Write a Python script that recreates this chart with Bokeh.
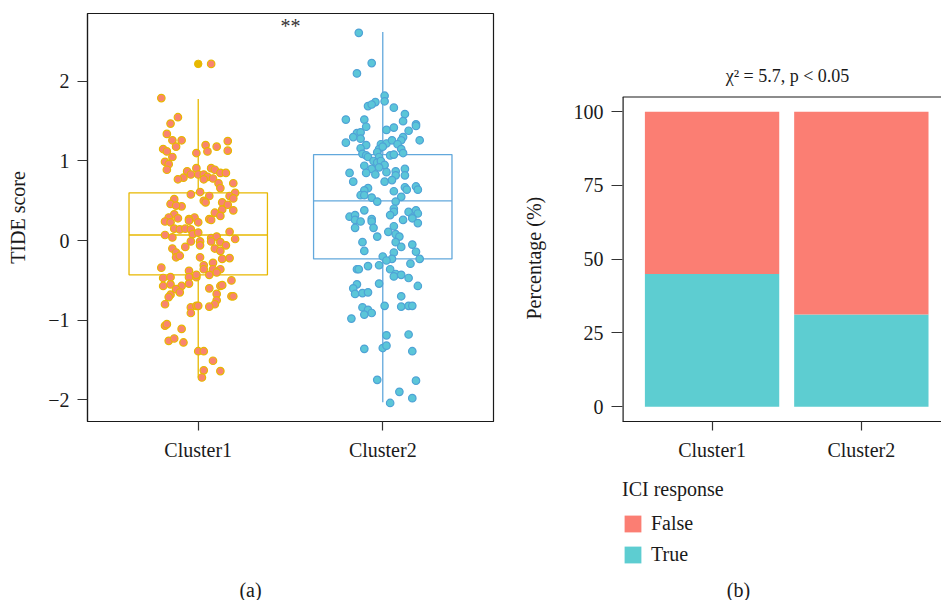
from bokeh.plotting import figure
from bokeh.models import (FixedTicker, Legend, LegendItem, Label, Range1d, ColumnDataSource,
                          Span, Title)
from bokeh.layouts import row, column
from bokeh.transform import dodge
from bokeh.embed import file_html
from bokeh.resources import INLINE

# ---------------- data ----------------
clusters = ["Cluster1", "Cluster2"]
cluster_pos = [1, 2]

# TIDE scores (jittered points)
c1_tide = [2.22, 1.79, 1.55, 1.47, 1.34, 1.26, 1.26, 1.25, 1.18, 1.20, 1.18, 1.15, 1.12, 1.12, 1.13,
           1.10, 1.05, 0.99, 0.96, 0.89, 0.91, 0.87, 0.91, 0.89, 0.85, 0.85, 0.83, 0.83, 0.83, 0.80,
           0.78, 0.79, 0.77, 0.77, 0.72, 0.72, 0.66, 0.58, 0.61, 0.56, 0.60, 0.56, 0.53, 0.52, 0.46,
           0.50, 0.48, 0.43, 0.44, 0.48, 0.39, 0.45, 0.38, 0.35, 0.31, 0.33, 0.29, 0.29, 0.27, 0.27,
           0.28,
           0.24, 0.23, 0.25, 0.23, 0.26, 0.15, 0.14, 0.15, 0.14, 0.08, 0.07, 0.04, 0.10, -0.01, -0.08,
           -0.01, -0.06, 0.03, 0.05, -0.01, -0.02, -0.06, 0.11, 0.02, -0.10, -0.13, -0.10, -0.15, -0.21,
           -0.19, -0.21, -0.23, -0.22, -0.31, -0.28, -0.36, -0.36, -0.36, -0.38, -0.43, -0.40, -0.34,
           -0.46, -0.46, -0.43, -0.47, -0.46, -0.57, -0.55, -0.57, -0.54, -0.61, -0.65, -0.60, -0.57,
           -0.56, -0.50, -0.67, -0.68, -0.71, -0.70, -0.70, -0.75, -0.80, -0.80, -0.84, -0.82, -0.82,
           -0.83, -0.91, -1.07, -1.05, -1.11, -1.26, -1.23, -1.28, -1.39, -1.39, -1.51, -1.63, -1.64,
           -1.72]
c1_jitter = [0.07, -0.20, -0.11, -0.15, -0.17, -0.14, -0.09, 0.16, -0.12, 0.04, 0.10, -0.19, -0.17, 0.05,
             0.16, -0.01, -0.14, -0.18, -0.16, -0.17, -0.01, -0.06, 0.07, 0.09, 0.12, 0.15, -0.04, 0.00,
             0.03, 0.05, 0.08, -0.08, -0.11, 0.03, 0.11, 0.19, 0.12, -0.04, 0.01, 0.06, 0.20, 0.17, 0.19,
             -0.13, -0.15, 0.03, 0.04, -0.09, -0.12, 0.13, 0.13, 0.16, 0.19, 0.09, 0.12, -0.13, -0.16,
             -0.02, -0.05, 0.06, -0.11,
             -0.18, -0.15, -0.05, 0.00, 0.07, -0.13, -0.10, -0.07, -0.04, -0.03, -0.18, -0.14, 0.00,
             -0.04, -0.07, 0.01, 0.01, 0.07, 0.10, 0.07, 0.12, 0.15, 0.17, 0.20, 0.09, 0.12, -0.14, -0.12,
             -0.12, -0.10, 0.01, 0.13, 0.17, 0.03, 0.08, 0.03, 0.08, 0.12, -0.05, 0.06, 0.10, -0.20, -0.05,
             -0.01, -0.01, -0.19, -0.15, -0.19, -0.15, -0.09, -0.05, -0.12, -0.10, 0.06, 0.12, 0.13, 0.18,
             0.10, -0.15, -0.16, 0.18, 0.19, 0.10, 0.09, -0.18, -0.04, -0.01, 0.00, 0.06, -0.04, -0.18,
             -0.17, -0.09, -0.16, -0.13, -0.08, 0.00, 0.03, 0.08, 0.03, 0.12, 0.02]

c2_tide = [2.61, 2.23, 2.10, 1.82, 1.75, 1.74, 1.69, 1.71, 1.67, 1.59, 1.50, 1.52, 1.52, 1.43, 1.46,
           1.44, 1.38, 1.39, 1.42, 1.35, 1.36, 1.30, 1.28, 1.26, 1.30, 1.26, 1.23, 1.20, 1.21, 1.22,
           1.26, 1.21, 1.16, 1.15, 1.18, 1.15, 1.10, 1.09, 1.07, 1.11, 1.05, 1.05, 1.00, 0.98, 1.00,
           0.95, 1.07, 1.08, 0.94, 0.90, 0.85, 0.83, 0.92, 0.86, 0.87, 0.90, 0.82, 0.82, 0.85, 0.74,
           0.74, 0.76, 0.66, 0.63, 0.67, 0.64, 0.68, 0.64, 0.62, 0.55, 0.57, 0.57, 0.54, 0.49, 0.49,
           0.38, 0.40, 0.36, 0.36, 0.38, 0.34, 0.30, 0.32, 0.27, 0.32, 0.29,
           0.26, 0.24, 0.24, 0.26, 0.28, 0.22, 0.16, 0.16, 0.11, 0.18, 0.08, 0.05, 0.05, -0.02, -0.02,
           -0.08, -0.05, -0.13, -0.15, -0.14, -0.20, -0.23, -0.25, -0.23, -0.29, -0.31, -0.32, -0.36,
           -0.36, -0.36, -0.42, -0.43, -0.45, -0.47, -0.54, -0.55, -0.57, -0.60, -0.67, -0.66, -0.65,
           -0.70, -0.82, -0.84, -0.87, -0.91, -0.93, -0.83, -0.82, -0.82, -0.98, -1.19, -1.18, -1.36,
           -1.35, -1.32, -1.39, -1.75, -1.76, -1.90, -1.98, -2.04]
c2_jitter = [-0.13, -0.06, -0.14, 0.01, 0.01, -0.04, -0.08, -0.06, 0.06, 0.12, 0.11, -0.20, -0.10, -0.09,
             0.18, 0.18, 0.14, 0.02, 0.06, -0.14, -0.12, -0.16, -0.12, 0.20, 0.11, 0.10, -0.20, -0.09,
             -0.01, 0.02, 0.05, 0.08, -0.12, -0.02, 0.00, 0.10, 0.11, -0.11, -0.09, -0.03, -0.08, -0.02,
             -0.05, -0.03, -0.01, 0.01, 0.04, 0.06, -0.10, -0.06, -0.09, -0.04, -0.02, 0.02, 0.07, 0.12,
             0.12, 0.07, -0.18, -0.16, 0.01, 0.05, -0.08, -0.10, 0.12, 0.13, 0.18, 0.19, 0.06, 0.10,
             -0.12, -0.10, -0.06, -0.03, 0.07, -0.10, 0.06, 0.06, 0.14, 0.18, 0.19, -0.18, -0.15, -0.06,
             0.04, 0.16,
             -0.15, -0.12, -0.06, 0.11, 0.16, 0.19, -0.15, -0.05, 0.03, 0.06, 0.07, -0.03, 0.09, -0.11,
             0.07, 0.10, 0.16, -0.10, 0.06, 0.18, 0.00, 0.05, 0.02, 0.20, 0.15, -0.02, -0.08, -0.14,
             -0.13, 0.04, 0.07, 0.10, 0.06, 0.14, -0.02, -0.14, 0.19, -0.16, -0.15, -0.11, -0.08, 0.10,
             0.01, -0.11, -0.08, -0.06, -0.10, 0.10, 0.14, 0.16, -0.17, 0.02, 0.14, -0.10, 0.00, 0.02,
             0.16, -0.03, 0.18, 0.09, 0.16, 0.04]

# box plot statistics
box_q1 = [-0.43, -0.23]
box_median = [0.07, 0.50]
box_q3 = [0.60, 1.08]
whisker_low = [-1.72, -2.03]
whisker_high = [1.78, 2.62]
outlier_pos = [1]
outlier_tide = [2.22]
tide_ticks = [-2, -1, 0, 1, 2]
tide_tick_labels = ["\u22122", "\u22121", "0", "1", "2"]
significance = "**"

# ICI response percentages
ici_true = [45.0, 31.3]
ici_false = [55.0, 68.7]
pct_ticks = [0, 25, 50, 75, 100]
pct_top = 105
chi_title = "\u03c7\u00b2 = 5.7, p < 0.05"

# ---------------- style ----------------
FONT = "Liberation Serif"
TXT = "#1a1a1a"
box_colors = ["#E7B800", "#62A8DC"]
pt_fill = ["#F9846F", "#5BC6D8"]
pt_line = ["#E7B800", "#4FA3D6"]
col_false = "#FB7E73"
col_true = "#5DCDD1"


def style_axis(ax, tick_len=10):
    ax.axis_line_color = "#1a1a1a"
    ax.axis_line_width = 1.2
    ax.major_tick_line_color = "#333333"
    ax.major_tick_line_width = 1.2
    ax.major_tick_out = tick_len
    ax.major_tick_in = 0
    ax.minor_tick_line_color = None
    ax.major_label_text_font = FONT
    ax.major_label_text_font_size = "20px"
    ax.major_label_text_color = TXT
    ax.major_label_standoff = 8
    ax.axis_label_text_font = FONT
    ax.axis_label_text_font_size = "20px"
    ax.axis_label_text_font_style = "normal"
    ax.axis_label_text_color = TXT


def caption_fig(width, left, right):
    f = figure(width=width, height=130, title=None, x_axis_type=None, y_axis_type=None,
               x_range=Range1d(0, 1), y_range=Range1d(1000, 1001),
               output_backend="svg", toolbar_location=None,
               min_border_left=left, min_border_right=right, min_border_top=0, min_border_bottom=0)
    f.outline_line_color = None
    return f


# ---------------- left panel ----------------
p1 = figure(width=495, height=470, title=None,
            x_range=Range1d(0.4, 2.6), y_range=Range1d(-2.273, 2.853),
            output_backend="svg", toolbar_location=None,
            min_border_left=87, min_border_right=2, min_border_top=13, min_border_bottom=49)
p1.xgrid.visible = False
p1.ygrid.visible = False
p1.outline_line_color = "#1a1a1a"
p1.outline_line_width = 1.2

box_src = ColumnDataSource(dict(x=cluster_pos, q1=box_q1, med=box_median, q3=box_q3,
                                lo=whisker_low, hi=whisker_high, color=box_colors))
p1.segment(x0="x", y0="q3", x1="x", y1="hi", line_color="color", line_width=1.3, source=box_src)
p1.segment(x0="x", y0="lo", x1="x", y1="q1", line_color="color", line_width=1.3, source=box_src)
p1.vbar(x="x", width=0.75, bottom="q1", top="q3", fill_color=None, line_color="color",
        line_width=1.3, source=box_src)
p1.segment(x0=dodge("x", -0.375), y0="med", x1=dodge("x", 0.375), y1="med",
           line_color="color", line_width=1.3, source=box_src)
p1.scatter(x=outlier_pos, y=outlier_tide, size=7.5, color=box_colors[0])

for pos, vals, jit, fc, lc in [(cluster_pos[0], c1_tide, c1_jitter, pt_fill[0], pt_line[0]),
                               (cluster_pos[1], c2_tide, c2_jitter, pt_fill[1], pt_line[1])]:
    xs = [pos + j for j in jit]
    p1.scatter(x=xs, y=vals, size=7.5, fill_color=fc, line_color=lc, line_width=1.2)

style_axis(p1.xaxis[0], 9)
style_axis(p1.yaxis[0], 10)
p1.xaxis.ticker = FixedTicker(ticks=cluster_pos)
p1.xaxis.major_label_overrides = {p: c for p, c in zip(cluster_pos, clusters)}
p1.yaxis.ticker = FixedTicker(ticks=tide_ticks)
p1.yaxis.major_label_overrides = {t: l for t, l in zip(tide_ticks, tide_tick_labels)}
p1.yaxis.axis_label = "TIDE score"
p1.yaxis.axis_label_standoff = 16

p1.add_layout(Label(x=1.5, y=2.70, text=significance, text_align="center",
                    text_baseline="alphabetic", text_font=FONT, text_font_size="20px",
                    text_color="#333333"))

fa = caption_fig(495, 87, 2)
fa.add_layout(Label(x=163, y=11, x_units="screen", y_units="screen", text="(a)",
                    text_align="center", text_baseline="middle", text_font=FONT,
                    text_font_size="20px", text_color=TXT))

# ---------------- right panel ----------------
p2 = figure(width=446, height=470, title=None,
            x_range=Range1d(0.4, 2.537), y_range=Range1d(-5, 133.3),
            output_backend="svg", toolbar_location=None,
            min_border_left=127, min_border_right=0, min_border_top=13, min_border_bottom=49)
p2.xgrid.visible = False
p2.ygrid.visible = False
p2.outline_line_color = None

bar_src = ColumnDataSource(dict(x=cluster_pos, true=ici_true, false=ici_false))
p2.vbar_stack(["true", "false"], x="x", width=0.9,
              color=[col_true, col_false], line_color=None, source=bar_src)

# panel border (left and top); the right side is cut by the picture edge
p2.segment(x0=[0.4], y0=[-5], x1=[0.4], y1=[pct_top], line_color="#1a1a1a", line_width=2.4)
p2.add_layout(Span(location=pct_top, dimension="width", line_color="#1a1a1a", line_width=1.2))

style_axis(p2.xaxis[0], 9)
style_axis(p2.yaxis[0], 11)
p2.yaxis.axis_line_color = None
p2.xaxis.ticker = FixedTicker(ticks=cluster_pos)
p2.xaxis.major_label_overrides = {p: c for p, c in zip(cluster_pos, clusters)}
p2.yaxis.ticker = FixedTicker(ticks=pct_ticks)

p2.add_layout(Title(text="Percentage (%)", align="left", offset=102, vertical_align="middle",
                    standoff=49, text_font=FONT, text_font_size="20px",
                    text_font_style="normal", text_color=TXT), "left")

p2.add_layout(Label(x=165, y=346, x_units="screen", y_units="screen", text=chi_title,
                    text_align="center", text_baseline="middle", text_font=FONT,
                    text_font_size="18px", text_color=TXT))

fb = caption_fig(446, 127, 0)
lg_true, lg_false = fb.vbar_stack(["true", "false"], x="x", width=0.9,
                                  color=[col_true, col_false], line_color=None, source=bar_src)
legend = Legend(items=[LegendItem(label="False", renderers=[lg_false]),
                       LegendItem(label="True", renderers=[lg_true])],
                location=(0, 34), title="ICI response",
                title_text_font=FONT, title_text_font_size="20px", title_text_font_style="normal",
                title_text_color=TXT, title_standoff=11,
                label_text_font=FONT, label_text_font_size="20px", label_text_color=TXT,
                glyph_width=21, glyph_height=21, label_height=21, label_standoff=8,
                spacing=8, padding=0, margin=0, border_line_color=None,
                background_fill_alpha=0)
fb.add_layout(legend, "center")
fb.add_layout(Label(x=116, y=11, x_units="screen", y_units="screen", text="(b)",
                    text_align="center", text_baseline="middle", text_font=FONT,
                    text_font_size="20px", text_color=TXT))

layout = row(column(p1, fa), column(p2, fb))
open("out.html", "w").write(file_html(layout, INLINE))
